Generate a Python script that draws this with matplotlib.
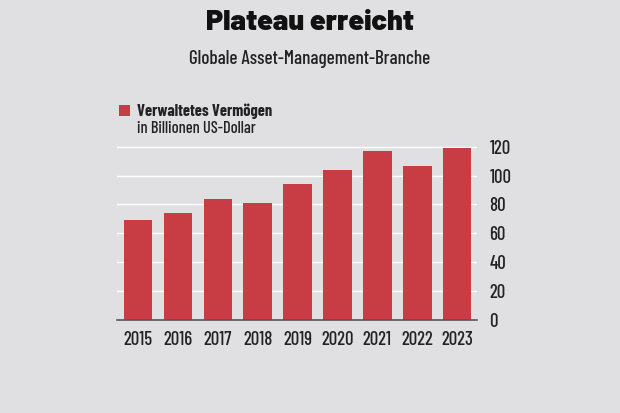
import matplotlib
matplotlib.use("Agg")
import matplotlib.pyplot as plt
from matplotlib.patches import Rectangle

years = ["2015", "2016", "2017", "2018", "2019", "2020", "2021", "2022", "2023"]
values = [69, 74, 84, 81, 94, 104, 117, 106.5, 119]
yticks = [0, 20, 40, 60, 80, 100, 120]

title = "Plateau erreicht"
subtitle = "Globale Asset-Management-Branche"
legend_main = "Verwaltetes Vermögen"
legend_sub = "in Billionen US-Dollar"

bg = "#e0e0e2"
bar_color = "#c83c43"
text_color = "#222222"

plt.rcParams['font.family'] = ['Barlow Condensed', 'DejaVu Sans']
plt.rcParams['font.weight'] = 'medium'

W, H = 620, 413
fig = plt.figure(figsize=(W/100, H/100), dpi=100, facecolor=bg)
ax = fig.add_axes([117/W, 1-320/H, (477-117)/W, (320-146)/H])
ax.set_facecolor(bg)

x = list(range(len(years)))
ax.bar(x, values, width=0.72, color=bar_color, zorder=3)
ax.set_xlim(-0.53, 8.5)
ax.set_ylim(0, 120.5)
ax.set_yticks(yticks)
ax.yaxis.tick_right()
ax.grid(axis='y', color='white', linewidth=1.0, zorder=0)
ax.set_xticks(x)
ax.set_xticklabels(years)
ax.tick_params(axis='x', length=0, pad=8, labelsize=13.5, labelcolor=text_color)
ax.tick_params(axis='y', length=0, pad=9, labelsize=13.5, labelcolor=text_color)
for s in ['top', 'right', 'left']:
    ax.spines[s].set_visible(False)
ax.spines['bottom'].set_color('#555555')
ax.spines['bottom'].set_linewidth(1.2)
ax.spines['bottom'].set_zorder(4)

fig.text(0.5, 1-23/H, title, ha='center', va='center', fontsize=20.5,
         fontweight='black', color='#111111', family=['Barlow', 'DejaVu Sans'])
fig.text(0.5, 1-59/H, subtitle, ha='center', va='center', fontsize=13.8, color=text_color)

fig.patches.append(Rectangle((119/W, 1-116/H), 11/W, 11/H, transform=fig.transFigure,
                             facecolor=bar_color, edgecolor='none'))
fig.text(137/W, 1-111/H, legend_main, ha='left', va='center', fontsize=11.8,
         fontweight='bold', color=text_color)
fig.text(137/W, 1-129/H, legend_sub, ha='left', va='center', fontsize=11.8, color=text_color)

fig.savefig("out.png", dpi=100, facecolor=bg)
